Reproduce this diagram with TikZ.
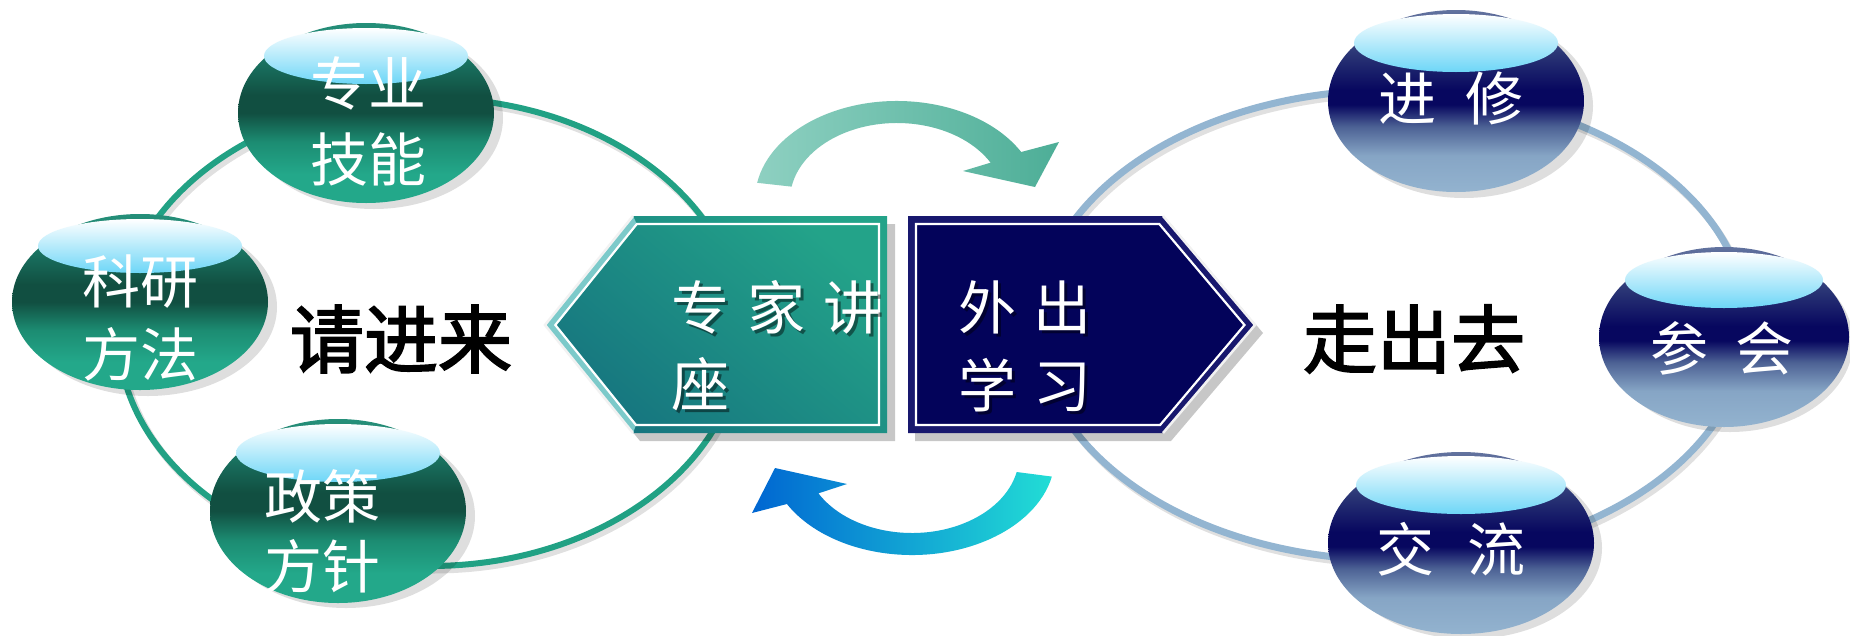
\documentclass[tikz,border=0pt]{standalone}
\usepackage{fontspec}
\newfontfamily\cjk{Noto Sans CJK SC}
\newfontfamily\cjkb[FakeBold=2.5]{Noto Sans CJK SC}
\usetikzlibrary{shapes.geometric,calc}
\definecolor{ringteal}{HTML}{21A184}
\definecolor{ringblue}{HTML}{93B5D1}
\definecolor{tbA}{HTML}{23A88A}
\definecolor{tbB}{HTML}{1C8C72}
\definecolor{tbC}{HTML}{114F41}
\definecolor{tbD}{HTML}{1A7563}
\definecolor{tbE}{HTML}{25907A}
\definecolor{nbA}{HTML}{93B3CF}
\definecolor{nbA2}{HTML}{86A5C5}
\definecolor{nbB}{HTML}{4C6194}
\definecolor{nbC}{HTML}{07075F}
\definecolor{nbD}{HTML}{2A3575}
\definecolor{nbE}{HTML}{62739F}
\definecolor{hl}{HTML}{6DD6F7}
\definecolor{hexA}{HTML}{23A389}
\definecolor{hexB}{HTML}{16757F}
\definecolor{hexband}{HTML}{7CCACA}
\definecolor{navy}{HTML}{03035A}
\definecolor{navyband}{HTML}{18186E}
\definecolor{arrA}{HTML}{8ED0C1}
\definecolor{arrB}{HTML}{4DAE97}
\definecolor{arrC}{HTML}{0066D2}
\definecolor{arrD}{HTML}{22DDD5}
\pgfdeclareverticalshading{tealbub}{100bp}{color(0bp)=(tbA); color(25bp)=(tbA); color(33bp)=(tbA); color(42bp)=(tbB); color(50bp)=(tbC); color(55bp)=(tbC); color(65bp)=(tbD); color(75bp)=(tbE); color(100bp)=(tbE)}
\pgfdeclareverticalshading{navybub}{100bp}{color(0bp)=(nbA); color(25bp)=(nbA); color(35bp)=(nbA2); color(43bp)=(nbB); color(49bp)=(nbC); color(53bp)=(nbC); color(63bp)=(nbD); color(75bp)=(nbE); color(100bp)=(nbE)}
\begin{document}
\begin{tikzpicture}[x=1pt,y=-1pt,
  tbubble/.style={ellipse, inner sep=0pt, minimum width=256pt, minimum height=180pt, shading=tealbub},
  nbubble/.style={ellipse, inner sep=0pt, minimum width=256pt, minimum height=180pt, shading=navybub},
  bshadow/.style={fill=black, opacity=0.13},
  hlight/.style={top color=white, bottom color=hl},
  btext/.style={text=white, inner sep=0pt, font=\cjk\fontsize{58}{60}\selectfont},
  htext/.style={text=white, inner sep=0pt, font=\cjk\fontsize{58}{60}\selectfont},
  hshadowtext/.style={text=black, opacity=0.45, inner sep=0pt, font=\cjk\fontsize{58}{60}\selectfont},
  bigtext/.style={text=black, inner sep=0pt, font=\cjkb\fontsize{74}{76}\selectfont},
]
\useasboundingbox (0,0) rectangle (1850,635);
\fill[white] (0,0) rectangle (1850,635);

% rings
\draw[black, opacity=0.12, line width=7pt] (433,336) ellipse [x radius=312, y radius=234];
\draw[ringteal, line width=6pt] (430,332) ellipse [x radius=312, y radius=234];
\draw[black, opacity=0.12, line width=7pt] (1395,329) ellipse [x radius=355, y radius=235];
\draw[ringblue, line width=7pt] (1392,325) ellipse [x radius=355, y radius=235];

% curved arrows
\coordinate (c1) at (897,200);
\coordinate (c2) at (912,456);
\path[left color=arrA, right color=arrB]
  ($(c1)+(-170:142 and 99)$) arc[start angle=-170, end angle=-29, x radius=142, y radius=99]
  -- (1059,142) -- (1035,187) -- (963,171)
  -- ($(c1)+(-29:107 and 77)$) arc[start angle=-29, end angle=-170, x radius=107, y radius=77] -- cycle;
\path[left color=arrC, right color=arrD]
  ($(c2)+(12:143 and 99)$) arc[start angle=12, end angle=151, x radius=143, y radius=99]
  -- (752,513) -- (775,468) -- (847,484)
  -- ($(c2)+(151:107 and 77)$) arc[start angle=151, end angle=12, x radius=107, y radius=77] -- cycle;

% teal hexagon
\fill[black, opacity=0.22] (552,333) -- (640,224) -- (895,224) -- (895,441) -- (640,441) -- cycle;
\path[top color=hexA, bottom color=hexB, shading angle=-40]
  (545,325) -- (633,216) -- (887,216) -- (887,433) -- (633,433) -- cycle;
\fill[hexband] (633,216) -- (545,325) -- (633,433) -- (636,425) -- (555.3,325) -- (636.8,224) -- cycle;
\draw[white!90!gray, line width=2.5pt, line join=miter] (633,216) -- (545,325) -- (633,433);
\draw[white, line width=2.2pt] (555.3,325) -- (636.8,224) -- (879,224) -- (879,425) -- (636,425) -- cycle;

% navy hexagon
\fill[black, opacity=0.22] (915,224) -- (1171,224) -- (1263,333) -- (1171,441) -- (915,441) -- cycle;
\fill[navyband] (908,216) -- (1163,216) -- (1255,325) -- (1163,433) -- (908,433) -- cycle;
\fill[navy] (916,224) -- (1159.3,224) -- (1244.5,325) -- (1160.1,425) -- (916,425) -- cycle;
\draw[white!90!gray, line width=2.5pt, line join=miter] (1163,216) -- (1255,325) -- (1163,433);
\draw[white, line width=2.2pt] (916,224) -- (1159.3,224) -- (1244.5,325) -- (1160.1,425) -- (916,425) -- cycle;

% hexagon texts
\node[hshadowtext, anchor=west] at (674,310) {专\hspace{18pt}家\hspace{18pt}讲};
\node[htext, anchor=west] (h1a) at (671,307) {专\hspace{18pt}家\hspace{18pt}讲};
\node[hshadowtext, anchor=west] at (674,387) {座};
\node[htext, anchor=west] (h1b) at (671,384) {座};
\node[hshadowtext] at (1028,310) {外\hspace{18pt}出};
\node[htext] (h2a) at (1025,307) {外\hspace{18pt}出};
\node[hshadowtext] at (1028,388) {学\hspace{18pt}习};
\node[htext] (h2b) at (1025,385) {学\hspace{18pt}习};

% centre words
\node[bigtext] (qjl) at (401,339) {请进来};
\node[bigtext] (zcq) at (1414,339) {走出去};

% teal bubbles
\fill[bshadow] (374,118) ellipse [x radius=129, y radius=91];
\node[tbubble] (b1) at (366,113) {};
\path[hlight] ($(b1.center)+(0,-57)$) ellipse [x radius=102, y radius=28];
\node[btext] (b1a) at (368,83) {专业};
\node[btext] (b1b) at (368,159) {技能};

\fill[bshadow] (148,307) ellipse [x radius=129, y radius=89];
\node[tbubble, minimum height=176pt] (b2) at (140,302) {};
\path[hlight] ($(b2.center)+(0,-56)$) ellipse [x radius=102, y radius=27];
\node[btext] (b2a) at (140,282) {科研};
\node[btext] (b2b) at (140,354) {方法};

\fill[bshadow] (346,516) ellipse [x radius=129, y radius=92];
\node[tbubble, minimum height=184pt] (b3) at (338,511) {};
\path[hlight] ($(b3.center)+(0,-58)$) ellipse [x radius=102, y radius=29];
\node[btext] (b3a) at (322,496) {政策};
\node[btext] (b3b) at (322,566) {方针};

% navy bubbles
\fill[bshadow] (1464,106) ellipse [x radius=129, y radius=92];
\node[nbubble, minimum height=182pt] (r1) at (1456,101) {};
\path[hlight] ($(r1.center)+(0,-58)$) ellipse [x radius=102, y radius=29];
\node[btext] (r1a) at (1451,98) {进\hspace{29pt}修};

\fill[bshadow] (1730,342) ellipse [x radius=123, y radius=90];
\node[nbubble, minimum width=250pt] (r2) at (1724,337) {};
\path[hlight] ($(r2.center)+(0,-57)$) ellipse [x radius=99, y radius=28];
\node[btext] (r2a) at (1722,348) {参\hspace{27pt}会};

\fill[bshadow] (1469,548) ellipse [x radius=133, y radius=91];
\node[nbubble, minimum width=266pt, minimum height=182pt] (r3) at (1461,543) {};
\path[hlight] ($(r3.center)+(0,-58)$) ellipse [x radius=105, y radius=29];
\node[btext] (r3a) at (1451,549) {交\hspace{33pt}流};
\end{tikzpicture}
\end{document}
